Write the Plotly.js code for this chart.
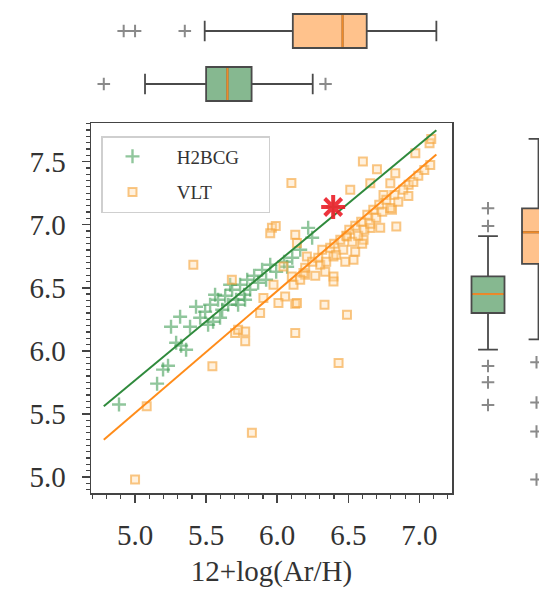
<!DOCTYPE html>
<html>
<head>
<meta charset="utf-8">
<script src="https://cdn.plot.ly/plotly-3.0.1.min.js"></script>
<style>html,body{margin:0;padding:0;background:#fff;}#chart{width:539px;height:591px;}</style>
</head>
<body>
<div id="chart"></div>
<script>
// ---- scatter data: H2BCG ----
const h2bcgX = [4.887,5.155,5.197,5.232,5.253,5.317,5.387,5.289,5.359,5.324,5.458,5.493,5.528,5.549,5.584,5.613,5.634,5.655,5.683,5.711,5.739,5.767,5.789,5.810,5.838,5.866,5.894,5.922,5.951,5.993,6.049,6.106,6.162,6.246,6.218,6.070,5.669,5.563,5.514,5.725,6.394,5.429,5.598,5.774];
const h2bcgY = [5.574,5.740,5.851,5.882,6.191,6.270,6.191,6.064,6.009,6.041,6.262,6.310,6.365,6.231,6.405,6.326,6.437,6.365,6.484,6.405,6.524,6.445,6.563,6.484,6.595,6.540,6.642,6.563,6.682,6.627,6.706,6.738,6.801,6.896,6.975,6.666,6.524,6.445,6.207,6.365,7.140,6.349,6.262,6.405];
// ---- scatter data: VLT ----
const vltX = [5.000,5.082,5.822,5.544,6.432,6.127,6.491,6.333,6.127,5.410,6.100,5.963,5.990,6.603,6.514,6.702,6.838,7.072,7.084,6.972,6.925,6.831,6.796,6.748,6.655,6.808,6.655,6.537,6.396,6.396,6.608,6.491,6.396,6.139,5.880,5.775,5.775,5.704,5.974,6.056,6.115,6.197,6.009,5.951,6.127,6.303,5.903,5.681,6.103,6.185,6.209,6.139,6.044,5.725,6.197,6.246,6.289,6.317,6.345,6.373,6.401,6.415,6.444,6.465,6.486,6.507,6.528,6.549,6.570,6.591,6.613,6.634,6.655,6.676,6.697,6.718,6.739,6.768,6.796,6.824,6.852,6.887,6.923,6.958,6.993,7.035,7.077,6.479,6.549,6.338,6.268,6.162,6.598,6.725];
const vltY = [4.980,5.560,5.350,5.877,5.904,6.141,6.286,6.365,6.373,6.682,7.330,6.975,6.990,7.500,7.276,7.440,6.985,7.646,7.680,7.567,7.316,7.408,7.329,7.236,7.329,7.118,6.973,6.722,6.748,6.590,6.880,6.906,6.550,6.379,6.300,6.154,6.075,6.141,6.524,6.431,6.524,6.603,6.379,6.933,6.920,6.682,6.418,6.563,6.590,6.616,6.748,6.854,6.669,6.167,6.658,6.706,6.738,6.801,6.706,6.817,6.848,6.761,6.880,6.801,6.912,6.959,6.864,6.991,6.912,7.023,6.959,7.078,7.007,7.118,7.054,7.157,7.102,7.197,7.133,7.236,7.181,7.276,7.228,7.339,7.387,7.434,7.474,6.706,6.785,6.627,6.595,6.563,6.848,6.975];
// ---- highlighted object ----
const starX = [6.394];
const starY = [7.14];
// ---- linear fits ----
const fitX = [4.78, 7.12];
const h2bcgFit = [0.935, 1.091];   // slope, intercept
const vltFit = [0.967, 0.672];
// ---- series names ----
const seriesNames = ['H2BCG', 'VLT'];
// ---- top (x) box statistics: [VLT, H2BCG] ----
const topQ1 = [6.11, 5.50];
const topMedian = [6.46, 5.65];
const topQ3 = [6.63, 5.82];
const topLow = [5.49, 5.07];
const topHigh = [7.12, 6.25];
const topOutVLT = [4.92, 5.00, 5.35];
const topOutH2 = [4.78, 6.34];
// ---- right (y) box statistics: [H2BCG, VLT] ----
const rightQ1 = [6.30, 6.69];
const rightMedian = [6.45, 6.94];
const rightQ3 = [6.59, 7.13];
const rightLow = [6.01, 6.09];
const rightHigh = [6.91, 7.68];
const rightOutH2 = [7.13, 6.99, 5.88, 5.75, 5.57];
const rightOutVLT = [5.91, 5.59, 5.36, 4.98];

// ---- layout geometry (pixel-based) ----
const W = 539, H = 591;
const plotL = 91, plotR = 452, plotT = 123, plotB = 493;
const xRange = [4.69, 7.23], yRange = [4.873, 7.806];
const topPos = [31, 84], topW = 34;        // VLT, H2BCG rows (px from top)
const rightPos = [488, 538.5], rightW = 33; // H2BCG, VLT columns (px from left)

const greenFill = '#86b890', orangeFill = '#ffc28c';
const boxLine = '#4a4a4a', medCol = '#ee8a2a', outCol = '#8a8a8a';
const serif = 'Liberation Serif, Times New Roman, serif';
const pad = '\u00a0\u00a0\u00a0';
const tail = '\u00a0\u00a0\u00a0\u00a0\u00a0';

const traces = [];
traces.push({type:'scatter', mode:'markers', name:pad+seriesNames[0]+tail, x:h2bcgX, y:h2bcgY, legendgroup:'a',
  marker:{symbol:'cross-thin-open', size:10, color:'rgba(70,160,90,0.6)', line:{width:2.4, color:'rgba(70,160,90,0.6)'}}});
traces.push({type:'scatter', mode:'markers', name:pad+seriesNames[1], x:vltX, y:vltY, legendgroup:'b',
  marker:{symbol:'square', size:8, color:'rgba(255,215,160,0.35)', line:{width:2, color:'rgba(245,165,60,0.62)'}}});
traces.push({type:'scatter', mode:'lines', x:fitX, y:fitX.map(v=>h2bcgFit[0]*v+h2bcgFit[1]), showlegend:false,
  line:{color:'#2f8a3c', width:2}});
traces.push({type:'scatter', mode:'lines', x:fitX, y:fitX.map(v=>vltFit[0]*v+vltFit[1]), showlegend:false,
  line:{color:'#ff8c1a', width:2}});
traces.push({type:'scatter', mode:'markers', x:starX, y:starY, showlegend:false,
  marker:{symbol:'asterisk-open', size:20, color:'rgba(235,30,40,0.9)', line:{width:4, color:'rgba(235,30,40,0.9)'}}});

// top boxes
const topFills = [orangeFill, greenFill];
for (let i=0;i<2;i++){
  traces.push({type:'box', orientation:'h', xaxis:'x2', yaxis:'y2', y:[topPos[i]],
    q1:[topQ1[i]], median:[topMedian[i]], q3:[topQ3[i]], lowerfence:[topLow[i]], upperfence:[topHigh[i]],
    width:topW, whiskerwidth:0.6, boxpoints:false, showlegend:false,
    fillcolor:topFills[i], line:{color:boxLine, width:1.8}});
  traces.push({type:'scatter', mode:'lines', xaxis:'x2', yaxis:'y2', showlegend:false,
    x:[topMedian[i], topMedian[i]], y:[topPos[i]-topW/2+1, topPos[i]+topW/2-1], line:{color:medCol, width:2}});
}
const outMarker = {symbol:'cross-thin-open', size:9, color:outCol, line:{width:2, color:outCol}};
traces.push({type:'scatter', mode:'markers', xaxis:'x2', yaxis:'y2', showlegend:false,
  x:topOutVLT, y:topOutVLT.map(()=>topPos[0]), marker:outMarker});
traces.push({type:'scatter', mode:'markers', xaxis:'x2', yaxis:'y2', showlegend:false,
  x:topOutH2, y:topOutH2.map(()=>topPos[1]), marker:outMarker});

// right boxes
const rightFills = [greenFill, orangeFill];
for (let i=0;i<2;i++){
  traces.push({type:'box', orientation:'v', xaxis:'x3', yaxis:'y3', x:[rightPos[i]],
    q1:[rightQ1[i]], median:[rightMedian[i]], q3:[rightQ3[i]], lowerfence:[rightLow[i]], upperfence:[rightHigh[i]],
    width:rightW, whiskerwidth:0.6, boxpoints:false, showlegend:false,
    fillcolor:rightFills[i], line:{color:boxLine, width:1.8}});
  traces.push({type:'scatter', mode:'lines', xaxis:'x3', yaxis:'y3', showlegend:false,
    y:[rightMedian[i], rightMedian[i]], x:[rightPos[i]-rightW/2+1, rightPos[i]+rightW/2-1], line:{color:medCol, width:2}});
}
traces.push({type:'scatter', mode:'markers', xaxis:'x3', yaxis:'y3', showlegend:false,
  y:rightOutH2, x:rightOutH2.map(()=>rightPos[0]), marker:outMarker});
traces.push({type:'scatter', mode:'markers', xaxis:'x3', yaxis:'y3', showlegend:false,
  y:rightOutVLT, x:rightOutVLT.map(()=>rightPos[1]-2), marker:outMarker});

const xDom = [plotL/W, plotR/W];
const yDom = [(H-plotB)/H, (H-plotT)/H];
const hidden = {visible:false, showgrid:false, zeroline:false};

const layout = {
  width:W, height:H, margin:{l:0,r:0,t:0,b:0,pad:0},
  paper_bgcolor:'#fff', plot_bgcolor:'#fff',
  font:{family:serif, color:'#222'},
  showlegend:true,
  legend:{x:101/W, y:(H-136)/H, xanchor:'left', yanchor:'top', bgcolor:'rgba(255,255,255,0.9)',
    bordercolor:'#cfcfcf', borderwidth:1.5, font:{family:serif, size:19, color:'#333'},
    itemwidth:50, tracegroupgap:8, traceorder:'grouped'},
  xaxis:{domain:xDom, range:xRange, anchor:'y', showgrid:false, zeroline:false,
    showline:true, mirror:true, linecolor:'#444', linewidth:1.5,
    ticks:'outside', ticklen:8, tickwidth:1.5, tickcolor:'#444', tick0:5, dtick:0.5, tickformat:'.1f',
    minor:{ticks:'outside', ticklen:4, tickwidth:1.2, tickcolor:'#444', dtick:0.1, tick0:5, showgrid:false},
    tickfont:{family:serif, size:29, color:'#333'}, ticklabelstandoff:8,
    title:{text:'12+log(Ar/H)', font:{family:serif, size:29, color:'#333'}, standoff:10}},
  yaxis:{domain:yDom, range:yRange, anchor:'x', showgrid:false, zeroline:false,
    showline:true, mirror:true, linecolor:'#444', linewidth:1.5,
    ticks:'outside', ticklen:8, tickwidth:1.5, tickcolor:'#444', tick0:5, dtick:0.5, tickformat:'.1f',
    minor:{ticks:'outside', ticklen:4, tickwidth:1.2, tickcolor:'#444', dtick:0.05, tick0:5, showgrid:false},
    tickfont:{family:serif, size:29, color:'#333'}, ticklabelstandoff:10},
  xaxis2:Object.assign({domain:xDom, range:xRange, anchor:'y2'}, hidden),
  yaxis2:Object.assign({domain:[(H-110)/H, 1], range:[110, 0], anchor:'x2'}, hidden),
  xaxis3:Object.assign({domain:[460/W, 1], range:[460, W], anchor:'y3'}, hidden),
  yaxis3:Object.assign({domain:yDom, range:yRange, anchor:'x3'}, hidden)
};

Plotly.newPlot('chart', traces, layout, {displayModeBar:false, staticPlot:true});
</script>
</body>
</html>
